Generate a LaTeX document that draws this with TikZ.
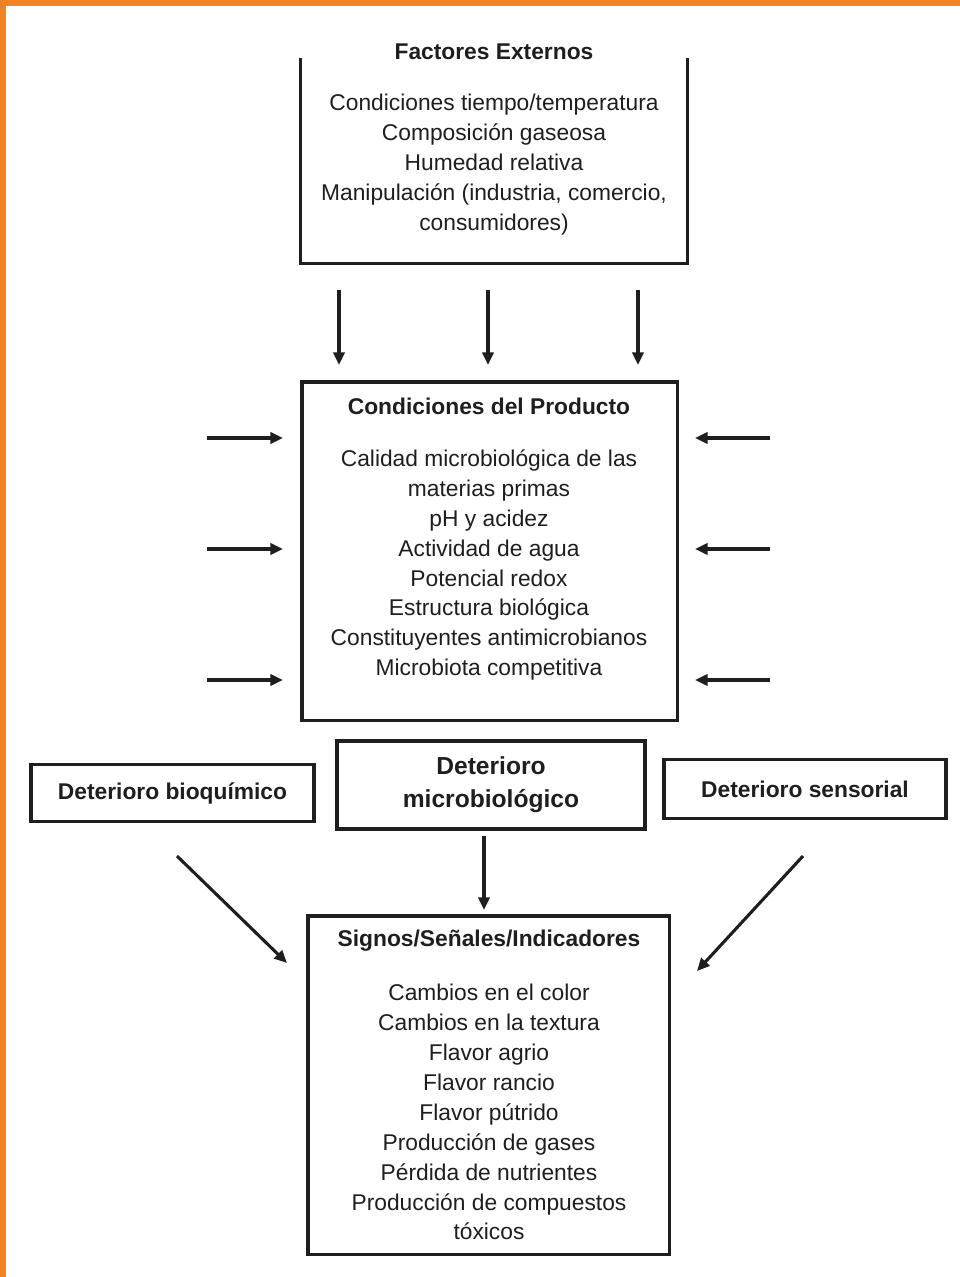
\documentclass[tikz,border=0pt]{standalone}
\usepackage{fontspec}
\setmainfont{Liberation Sans}
\usetikzlibrary{arrows.meta}
\definecolor{marco}{RGB}{245,130,32}
\definecolor{tinta}{RGB}{30,30,30}

\begin{document}
\begin{tikzpicture}[x=0.025cm,y=-0.025cm]
\tikzstyle{caja}= [rectangle,draw=tinta,line width=2.2pt,inner sep=0pt]
\tikzstyle{titulo}= [font=\fontsize{16.2}{21.3}\selectfont\bfseries,text=tinta,inner sep=0pt]
\tikzstyle{lista}= [align=center,font=\fontsize{16.2}{21.3}\selectfont,text=tinta,inner sep=0pt]
\tikzstyle{dep}= [-{Triangle[length=9pt,width=8pt]},line width=2.2pt,draw=tinta]

\useasboundingbox (0,0) rectangle (960,1277);
\fill[marco] (0,0) rectangle (960,6);
\fill[marco] (0,0) rectangle (6,1277);

% cajas
\path
	(494,161)  node[caja,draw=none,minimum width=9.6cm,minimum height=5.05cm] (ext) {}
	(489.5,551) node[caja,minimum width=9.375cm,minimum height=8.45cm] (prod) {}
	(172.5,793) node[caja,titulo,minimum width=7.075cm,minimum height=1.425cm] (bio) {Deterioro bioquímico}
	(491,785)  node[caja,titulo,align=center,font=\fontsize{17.5}{23.5}\selectfont\bfseries,
	                minimum width=7.7cm,minimum height=2.2cm] (micro) {Deterioro\\microbiológico}
	(805,789) node[caja,titulo,minimum width=7.05cm,minimum height=1.475cm] (sens) {Deterioro sensorial}
	(488.5,1085) node[caja,minimum width=9.025cm,minimum height=8.45cm] (sig) {}
;
\draw[line width=2.2pt,tinta] (ext.north west) |- (ext.south east) -- (ext.north east);

% textos
\node[titulo] (extT) at (494,52) {Factores Externos};
\node[lista] (extL) at (494,165) {Condiciones tiempo/temperatura\\Composición gaseosa\\Humedad relativa\\
	Manipulación (industria, comercio,\\consumidores)};
\node[titulo] (prodT) at (489,406) {Condiciones del Producto};
\node[lista] (prodL) at (489,565) {Calidad microbiológica de las\\materias primas\\pH y acidez\\
	Actividad de agua\\Potencial redox\\Estructura biológica\\Constituyentes antimicrobianos\\Microbiota competitiva};
\node[titulo] (sigT) at (489,941) {Signos/Señales/Indicadores};
\node[lista] (sigL) at (489,1112) {Cambios en el color\\Cambios en la textura\\Flavor agrio\\Flavor rancio\\
	Flavor pútrido\\Producción de gases\\Pérdida de nutrientes\\Producción de compuestos\\tóxicos};

% flechas
\foreach \x [count=\i] in {339,488,638} {
	\coordinate (e\i) at (\x,290);
	\coordinate (p\i) at (\x,365);
	\draw[dep] (e\i) -- (p\i);
}
\foreach \y [count=\i] in {438,549,680} {
	\coordinate (li\i) at (207,\y);
	\coordinate (lf\i) at (283,\y);
	\coordinate (ri\i) at (770,\y);
	\coordinate (rf\i) at (695,\y);
	\draw[dep] (li\i) -- (lf\i);
	\draw[dep] (ri\i) -- (rf\i);
}
\coordinate (bioA) at (177,856);
\coordinate (bioB) at (287,963);
\coordinate (microA) at (484,836);
\coordinate (microB) at (484,910);
\coordinate (sensA) at (803,856);
\coordinate (sensB) at (697,971);
\draw[dep] (bioA) -- (bioB);
\draw[dep] (microA) -- (microB);
\draw[dep] (sensA) -- (sensB);
\end{tikzpicture}
\end{document}
